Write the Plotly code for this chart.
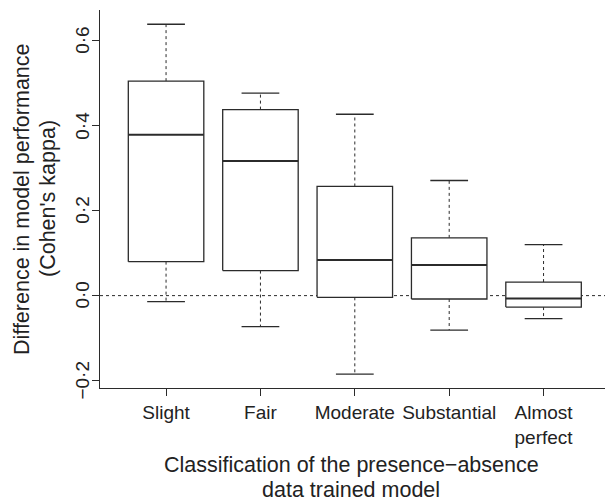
import plotly.graph_objects as go

categories = ["Slight", "Fair", "Moderate", "Substantial", "Almost<br>perfect"]
q1 = [0.080, 0.059, -0.004, -0.008, -0.027]
median = [0.379, 0.317, 0.084, 0.072, -0.007]
q3 = [0.505, 0.438, 0.257, 0.136, 0.032]
lower_whisker = [-0.014, -0.073, -0.185, -0.081, -0.054]
upper_whisker = [0.639, 0.477, 0.427, 0.271, 0.120]
y_tickvals = [-0.2, 0.0, 0.2, 0.4, 0.6]
y_ticktext = ["\u22120\u00b72", "0\u00b70", "0\u00b72", "0\u00b74", "0\u00b76"]
y_title_lines = ["Difference in model performance", "(Cohen's kappa)"]
x_title_lines = ["Classification of the presence\u2212absence", "data trained model"]

FONT = "Liberation Sans, Arial, sans-serif"
INK = "#2b2b2b"
TXT = "#222222"
BOXW = 0.4   # half box width
CAPW = 0.2   # half cap width

bx, by, mx, my, wx, wy, cx, cy = [], [], [], [], [], [], [], []
for i in range(len(categories)):
    p = i + 1
    bx += [p - BOXW, p + BOXW, p + BOXW, p - BOXW, p - BOXW, None]
    by += [q1[i], q1[i], q3[i], q3[i], q1[i], None]
    mx += [p - BOXW, p + BOXW, None]
    my += [median[i], median[i], None]
    wx += [p, p, None, p, p, None]
    wy += [q3[i], upper_whisker[i], None, q1[i], lower_whisker[i], None]
    cx += [p - CAPW, p + CAPW, None, p - CAPW, p + CAPW, None]
    cy += [upper_whisker[i], upper_whisker[i], None, lower_whisker[i], lower_whisker[i], None]

fig = go.Figure()
fig.add_trace(go.Scatter(x=wx, y=wy, mode="lines", line=dict(color=INK, width=1, dash="dot"),
                         hoverinfo="skip", showlegend=False))
fig.add_trace(go.Scatter(x=cx, y=cy, mode="lines", line=dict(color=INK, width=1.3),
                         hoverinfo="skip", showlegend=False))
fig.add_trace(go.Scatter(x=bx, y=by, mode="lines", fill="toself", fillcolor="white",
                         line=dict(color=INK, width=1.3), hoverinfo="skip", showlegend=False))
fig.add_trace(go.Scatter(x=mx, y=my, mode="lines", line=dict(color=INK, width=2),
                         hoverinfo="skip", showlegend=False))

fig.add_shape(type="line", xref="paper", x0=0, x1=1, yref="y", y0=0, y1=0,
              line=dict(color=INK, width=1, dash="dot"), layer="below")

W, H = 605, 503
ML, MR, MT, MB = 100, 0, 10, 115
pw = W - ML - MR
ph = H - MT - MB


def px_x(px):
    return (px - ML) / pw


def px_y(py):
    return (H - MB - py) / ph


annotations = []
# y tick labels (rotated, reading bottom-to-top)
for v, t in zip(y_tickvals, y_ticktext):
    annotations.append(dict(text=t, textangle=-90, xref="paper", yref="y", x=px_x(83), y=v,
                            xanchor="center", yanchor="middle", showarrow=False,
                            font=dict(size=19, family=FONT, color=TXT)))
# y title lines
for line, xc in zip(y_title_lines, [22, 48]):
    annotations.append(dict(text=line, textangle=-90, xref="paper", yref="paper",
                            x=px_x(xc), y=0.5, xanchor="center", yanchor="middle",
                            showarrow=False, font=dict(size=21.5, family=FONT, color=TXT)))
# x title lines
for line, yc in zip(x_title_lines, [465, 490]):
    annotations.append(dict(text=line, xref="paper", yref="paper",
                            x=px_x(351), y=px_y(yc), xanchor="center", yanchor="middle",
                            showarrow=False, font=dict(size=21.5, family=FONT, color=TXT)))

fig.update_layout(
    width=W, height=H,
    margin=dict(l=ML, r=MR, t=MT, b=MB),
    plot_bgcolor="white", paper_bgcolor="white",
    font=dict(family=FONT, color=TXT, size=19),
    xaxis=dict(range=[0.3, 5.651], tickvals=[1, 2, 3, 4, 5], ticktext=categories,
               showline=True, linecolor=INK, linewidth=1, ticks="outside", ticklen=7,
               tickcolor=INK, showgrid=False, zeroline=False, tickfont=dict(size=19)),
    yaxis=dict(range=[-0.2175, 0.6725], tickvals=y_tickvals, showticklabels=False,
               showline=True, linecolor=INK, linewidth=1, ticks="outside", ticklen=7,
               tickcolor=INK, showgrid=False, zeroline=False),
    annotations=annotations,
)

fig.write_html("out.html")
